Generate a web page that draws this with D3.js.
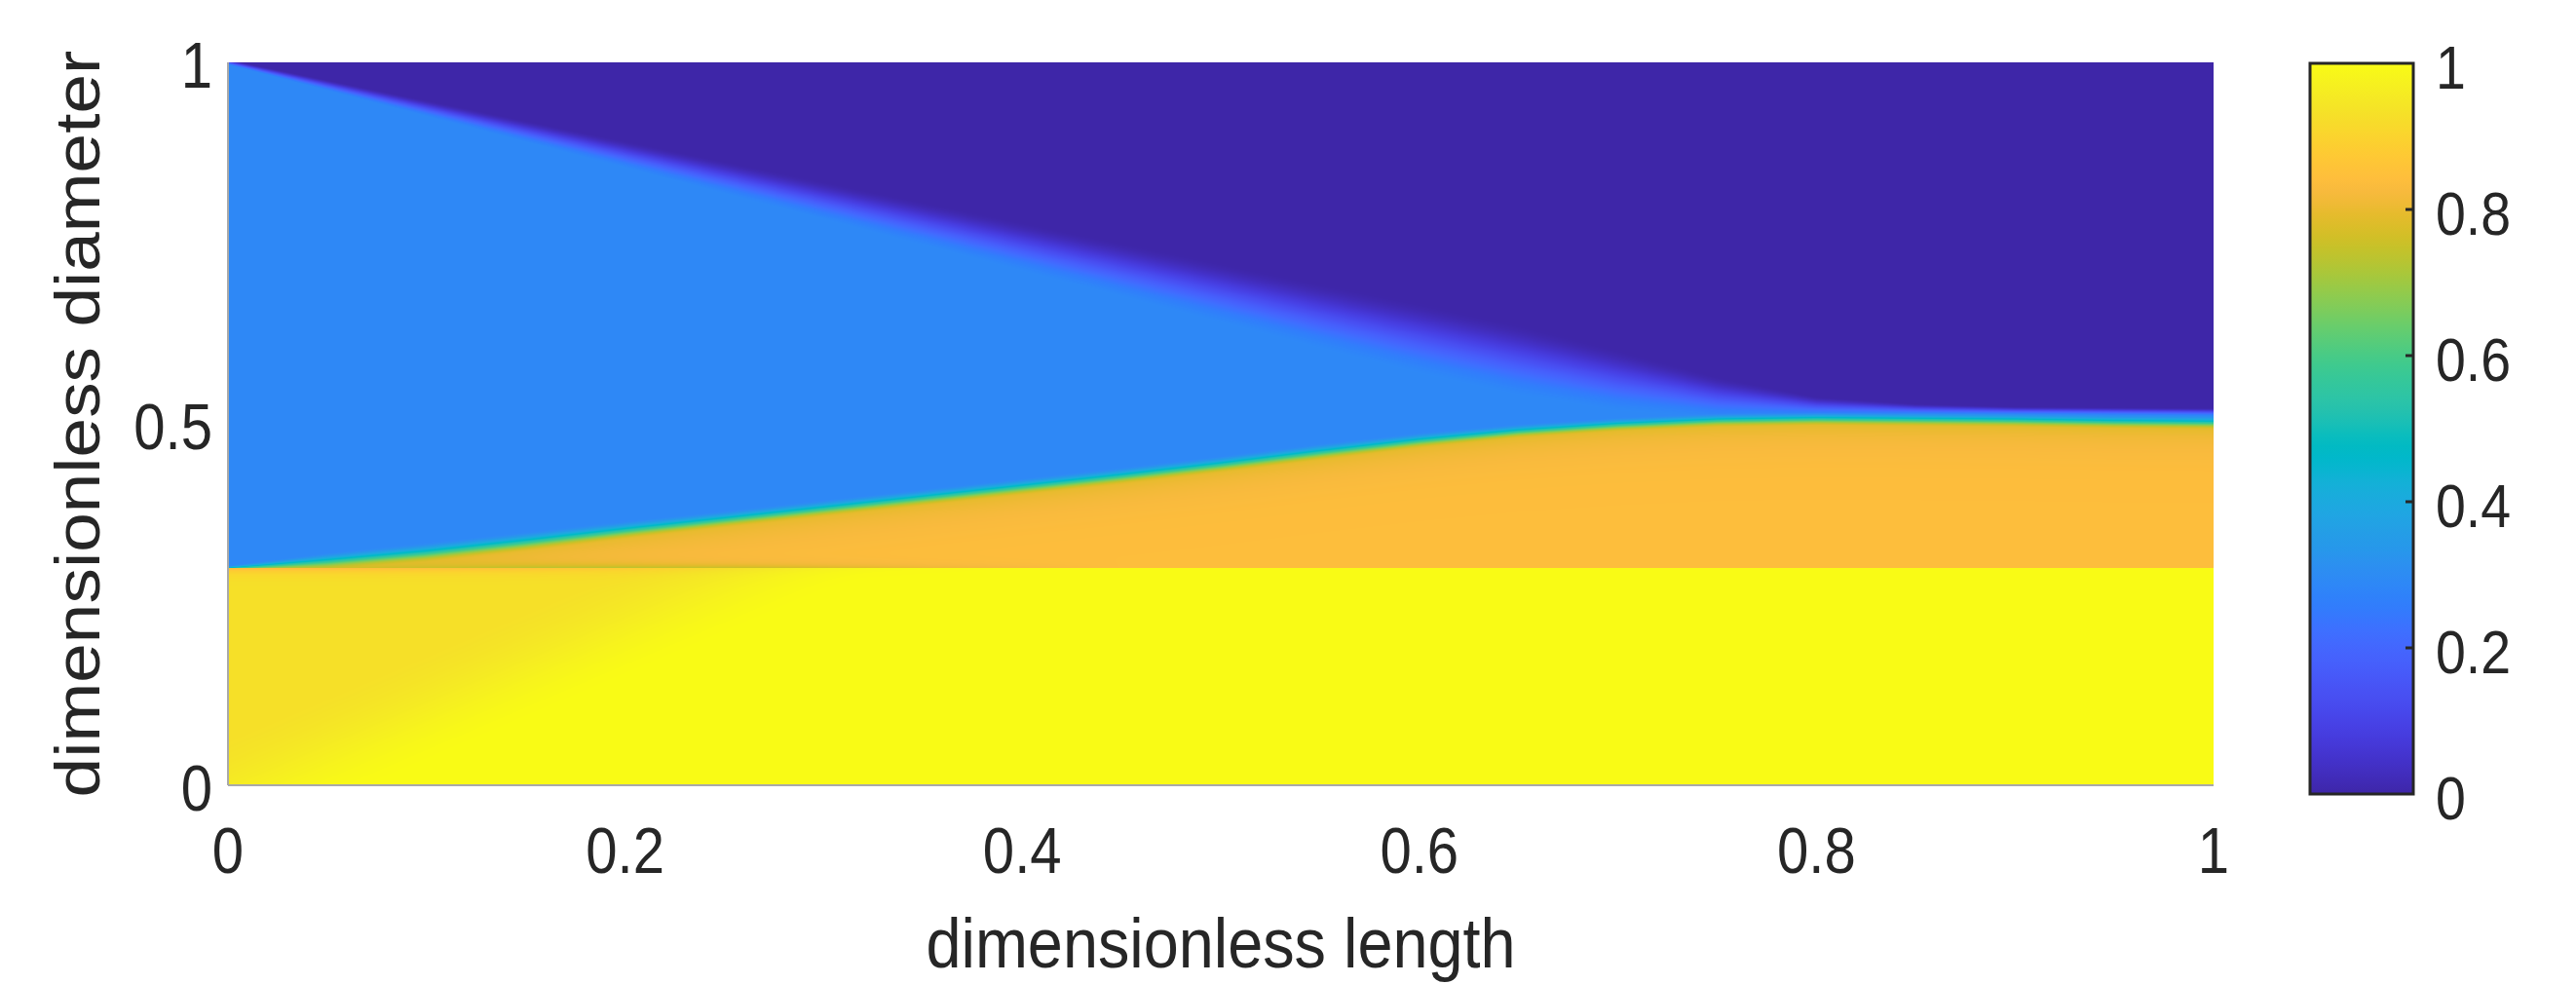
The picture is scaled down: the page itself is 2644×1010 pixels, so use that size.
<!DOCTYPE html>
<html><head><meta charset="utf-8">
<script src="https://cdn.jsdelivr.net/npm/d3@7"></script>
<style>html,body{margin:0;padding:0;background:#fff;} svg{display:block;}</style>
</head><body>
<svg id="chart" width="2644" height="1010"></svg>
<script>
// ---------------- data ----------------
const lengthTicks = [0, 0.2, 0.4, 0.6, 0.8, 1];
const diameterTicks = [0, 0.5, 1];
const colorTicks = [0, 0.2, 0.4, 0.6, 0.8, 1];
const xLabel = "dimensionless length";
const yLabel = "dimensionless diameter";

// sample positions along the length
const samplesX = [0,0.05,0.1,0.15,0.2,0.25,0.3,0.35,0.4,0.45,0.5,0.55,0.6,0.65,0.7,0.75,0.8,0.85,0.9,0.95,1];
// lower interface (blue / orange) centre line
const interfaceY = [0.300,0.310,0.322,0.337,0.353,0.368,0.383,0.398,0.413,0.428,0.444,0.461,0.477,0.490,0.499,0.505,0.507,0.506,0.505,0.503,0.502];
const interfaceHalfWidth = [0.004,0.012,0.014,0.014,0.013,0.012,0.012,0.012,0.012,0.012,0.012,0.012,0.011,0.010,0.010,0.010,0.010,0.010,0.010,0.010,0.010];
// upper front (blue / purple) centre line and its blur
const frontY = [1.000,0.968,0.936,0.904,0.872,0.840,0.808,0.776,0.744,0.712,0.680,0.648,0.617,0.587,0.559,0.536,0.524,0.520,0.518,0.517,0.516];
const frontWidth = [0.004,0.008,0.012,0.016,0.020,0.024,0.028,0.032,0.036,0.040,0.044,0.048,0.052,0.052,0.045,0.030,0.014,0.008,0.006,0.006,0.006];
// thin green seam just above the core top, orange rim just below it
const seamDepth = [0,0.03,0.07,0.11,0.12,0.10,0.07,0.04,0.02,0,0,0,0,0,0,0,0,0,0,0,0];
const rimDepth  = [0.09,0.09,0.08,0.07,0.05,0.03,0.015,0.005,0,0,0,0,0,0,0,0,0,0,0,0,0];
const coreTop = 0.3;
// field levels (colormap values)
const levelPurple = 0.0, levelBlue = 0.29, levelOlive = 0.77, levelOrange = 0.84, levelYellow = 1.0, levelCorner = 0.93;

// parula colormap table (64 entries)
const parula = [
[0.2422,0.1504,0.6603],[0.2504,0.1650,0.7076],[0.2578,0.1818,0.7511],[0.2647,0.1978,0.7952],
[0.2706,0.2147,0.8364],[0.2751,0.2342,0.8710],[0.2783,0.2559,0.8991],[0.2803,0.2782,0.9221],
[0.2813,0.3006,0.9414],[0.2810,0.3228,0.9579],[0.2795,0.3447,0.9717],[0.2760,0.3667,0.9829],
[0.2699,0.3892,0.9906],[0.2602,0.4123,0.9952],[0.2440,0.4358,0.9988],[0.2206,0.4603,0.9973],
[0.1963,0.4847,0.9892],[0.1834,0.5074,0.9798],[0.1786,0.5289,0.9682],[0.1764,0.5499,0.9520],
[0.1687,0.5703,0.9359],[0.1540,0.5902,0.9218],[0.1460,0.6091,0.9079],[0.1380,0.6276,0.8973],
[0.1248,0.6459,0.8883],[0.1113,0.6635,0.8763],[0.0952,0.6798,0.8598],[0.0689,0.6948,0.8394],
[0.0297,0.7082,0.8163],[0.0036,0.7203,0.7917],[0.0067,0.7312,0.7660],[0.0433,0.7411,0.7394],
[0.0964,0.7500,0.7120],[0.1408,0.7584,0.6842],[0.1717,0.7670,0.6554],[0.1938,0.7758,0.6251],
[0.2161,0.7843,0.5923],[0.2470,0.7918,0.5567],[0.2906,0.7973,0.5188],[0.3406,0.8008,0.4789],
[0.3909,0.8029,0.4354],[0.4456,0.8024,0.3909],[0.5044,0.7993,0.3480],[0.5616,0.7942,0.3045],
[0.6174,0.7876,0.2612],[0.6720,0.7793,0.2227],[0.7242,0.7698,0.1910],[0.7738,0.7598,0.1646],
[0.8203,0.7498,0.1535],[0.8634,0.7406,0.1596],[0.9035,0.7330,0.1774],[0.9393,0.7288,0.2100],
[0.9728,0.7298,0.2394],[0.9956,0.7434,0.2371],[0.9970,0.7659,0.2199],[0.9952,0.7893,0.2028],
[0.9892,0.8136,0.1885],[0.9786,0.8386,0.1766],[0.9676,0.8639,0.1643],[0.9610,0.8890,0.1537],
[0.9597,0.9135,0.1423],[0.9628,0.9373,0.1265],[0.9691,0.9606,0.1064],[0.9769,0.9839,0.0805]];

// ---------------- layout ----------------
const svg = d3.select("#chart");
const FONT = "'Liberation Sans', Arial, Helvetica, sans-serif";
const TXT = "#262626";
const x = d3.scaleLinear().domain([0, 1]).range([234, 2272]);
const y = d3.scaleLinear().domain([0, 1]).range([806, 64]);
const cy = d3.scaleLinear().domain([0, 1]).range([815, 65]);

const parulaHex = parula.map(c => d3.rgb(c[0]*255, c[1]*255, c[2]*255).formatHex());
const color = d3.scaleLinear().domain(parula.map((_, i) => i / (parula.length - 1))).range(parulaHex).clamp(true);

// ---------------- field image ----------------
const ss = (a, b, t) => { let u = (t - a) / (b - a); u = u < 0 ? 0 : u > 1 ? 1 : u; return u * u * (3 - 2 * u); };
const sIf = d3.scaleLinear().domain(samplesX).range(interfaceY).clamp(true);
const sHw = d3.scaleLinear().domain(samplesX).range(interfaceHalfWidth).clamp(true);
const sFr = d3.scaleLinear().domain(samplesX).range(frontY).clamp(true);
const sFw = d3.scaleLinear().domain(samplesX).range(frontWidth).clamp(true);
const sSeam = d3.scaleLinear().domain(samplesX).range(seamDepth).clamp(true);
const sRim = d3.scaleLinear().domain(samplesX).range(rimDepth).clamp(true);

function field(xd, yd, p) {
  if (yd < coreTop) {
    const d = xd - 0.85 * yd;
    const g = 1 - ss(-0.06, 0.08, d);
    let v = levelYellow - (levelYellow - levelCorner) * g;
    v -= p.rim * Math.exp(-(coreTop - yd) / 0.006);
    return v;
  }
  const s = ss(-p.hw, p.hw, yd - p.yi);
  const below = Math.max(0, p.yi - yd);
  let vLow = levelOrange - (levelOrange - levelOlive) * Math.exp(-below / 0.025);
  vLow -= p.seam * Math.exp(-(yd - coreTop) / 0.005);
  const t = ss(-p.fw, p.fw, yd - p.yf);
  const vHigh = levelBlue * (1 - t) + levelPurple * t;
  return vLow * (1 - s) + vHigh * s;
}

const W = Math.round(x(1) - x(0)), H = Math.round(y(0) - y(1));
const N = 1024;
const lut = d3.range(N).map(i => d3.rgb(color(i / (N - 1))));
const canvas = document.createElement("canvas");
canvas.width = W; canvas.height = H;
const ctx = canvas.getContext("2d");
const img = ctx.createImageData(W, H);
for (let i = 0; i < W; i++) {
  const xd = x.invert(x(0) + i + 0.5);
  const p = { yi: sIf(xd), hw: sHw(xd), yf: sFr(xd), fw: sFw(xd), seam: sSeam(xd), rim: sRim(xd) };
  for (let j = 0; j < H; j++) {
    const yd = y.invert(y(1) + j + 0.5);
    let v = field(xd, yd, p);
    let k = Math.round(v * (N - 1)); k = k < 0 ? 0 : k > N - 1 ? N - 1 : k;
    const c = lut[k], o = (j * W + i) * 4;
    img.data[o] = c.r; img.data[o + 1] = c.g; img.data[o + 2] = c.b; img.data[o + 3] = 255;
  }
}
ctx.putImageData(img, 0, 0);
svg.append("image").attr("x", x(0)).attr("y", y(1)).attr("width", W).attr("height", H)
  .attr("preserveAspectRatio", "none").attr("href", canvas.toDataURL());

// axis lines
svg.append("line").attr("x1", x(0)).attr("x2", x(0)).attr("y1", y(0)).attr("y2", y(1))
  .attr("stroke", "#a9a9a9").attr("stroke-width", 2);
svg.append("line").attr("x1", x(0)).attr("x2", x(1)).attr("y1", y(0)).attr("y2", y(0))
  .attr("stroke", "#a9a9a9").attr("stroke-width", 2);

// x tick labels
svg.append("g").selectAll("text").data(lengthTicks).join("text")
  .attr("transform", d => `translate(${x(d)},896) scale(0.88,1)`)
  .attr("text-anchor", "middle").attr("font-family", FONT).attr("font-size", 66).attr("fill", TXT)
  .text(d3.format("~g"));
// y tick labels
svg.append("g").selectAll("text").data(diameterTicks).join("text")
  .attr("transform", d => `translate(218,${y(d) + 26}) scale(0.88,1)`)
  .attr("text-anchor", "end").attr("font-family", FONT).attr("font-size", 66).attr("fill", TXT)
  .text(d3.format("~g"));

// axis titles
svg.append("text").attr("transform", `translate(${(x(0) + x(1)) / 2},993) scale(0.9,1)`)
  .attr("text-anchor", "middle").attr("font-family", FONT).attr("font-size", 72).attr("fill", TXT)
  .text(xLabel);
svg.append("text").attr("transform", `translate(102,${(y(0) + y(1)) / 2}) scale(0.9,1) rotate(-90)`)
  .attr("text-anchor", "middle").attr("font-family", FONT).attr("font-size", 73).attr("fill", TXT)
  .text(yLabel);

// ---------------- colorbar ----------------
const cbX0 = 2371, cbX1 = 2477;
const grad = svg.append("defs").append("linearGradient").attr("id", "cbgrad")
  .attr("x1", 0).attr("y1", 1).attr("x2", 0).attr("y2", 0);
grad.selectAll("stop").data(parulaHex).join("stop")
  .attr("offset", (d, i) => i / (parulaHex.length - 1)).attr("stop-color", d => d);
svg.append("rect").attr("x", cbX0).attr("y", cy(1)).attr("width", cbX1 - cbX0).attr("height", cy(0) - cy(1))
  .attr("fill", "url(#cbgrad)").attr("stroke", "#262626").attr("stroke-width", 3);
svg.append("g").selectAll("line").data(colorTicks.filter(d => d > 0 && d < 1)).join("line")
  .attr("x1", cbX1 - 8).attr("x2", cbX1).attr("y1", d => cy(d)).attr("y2", d => cy(d))
  .attr("stroke", "#262626").attr("stroke-width", 3);
svg.append("g").selectAll("text").data(colorTicks).join("text")
  .attr("transform", d => `translate(2500,${cy(d) + 26}) scale(0.88,1)`)
  .attr("text-anchor", "start").attr("font-family", FONT).attr("font-size", 63).attr("fill", TXT)
  .text(d3.format("~g"));
</script>
</body></html>
